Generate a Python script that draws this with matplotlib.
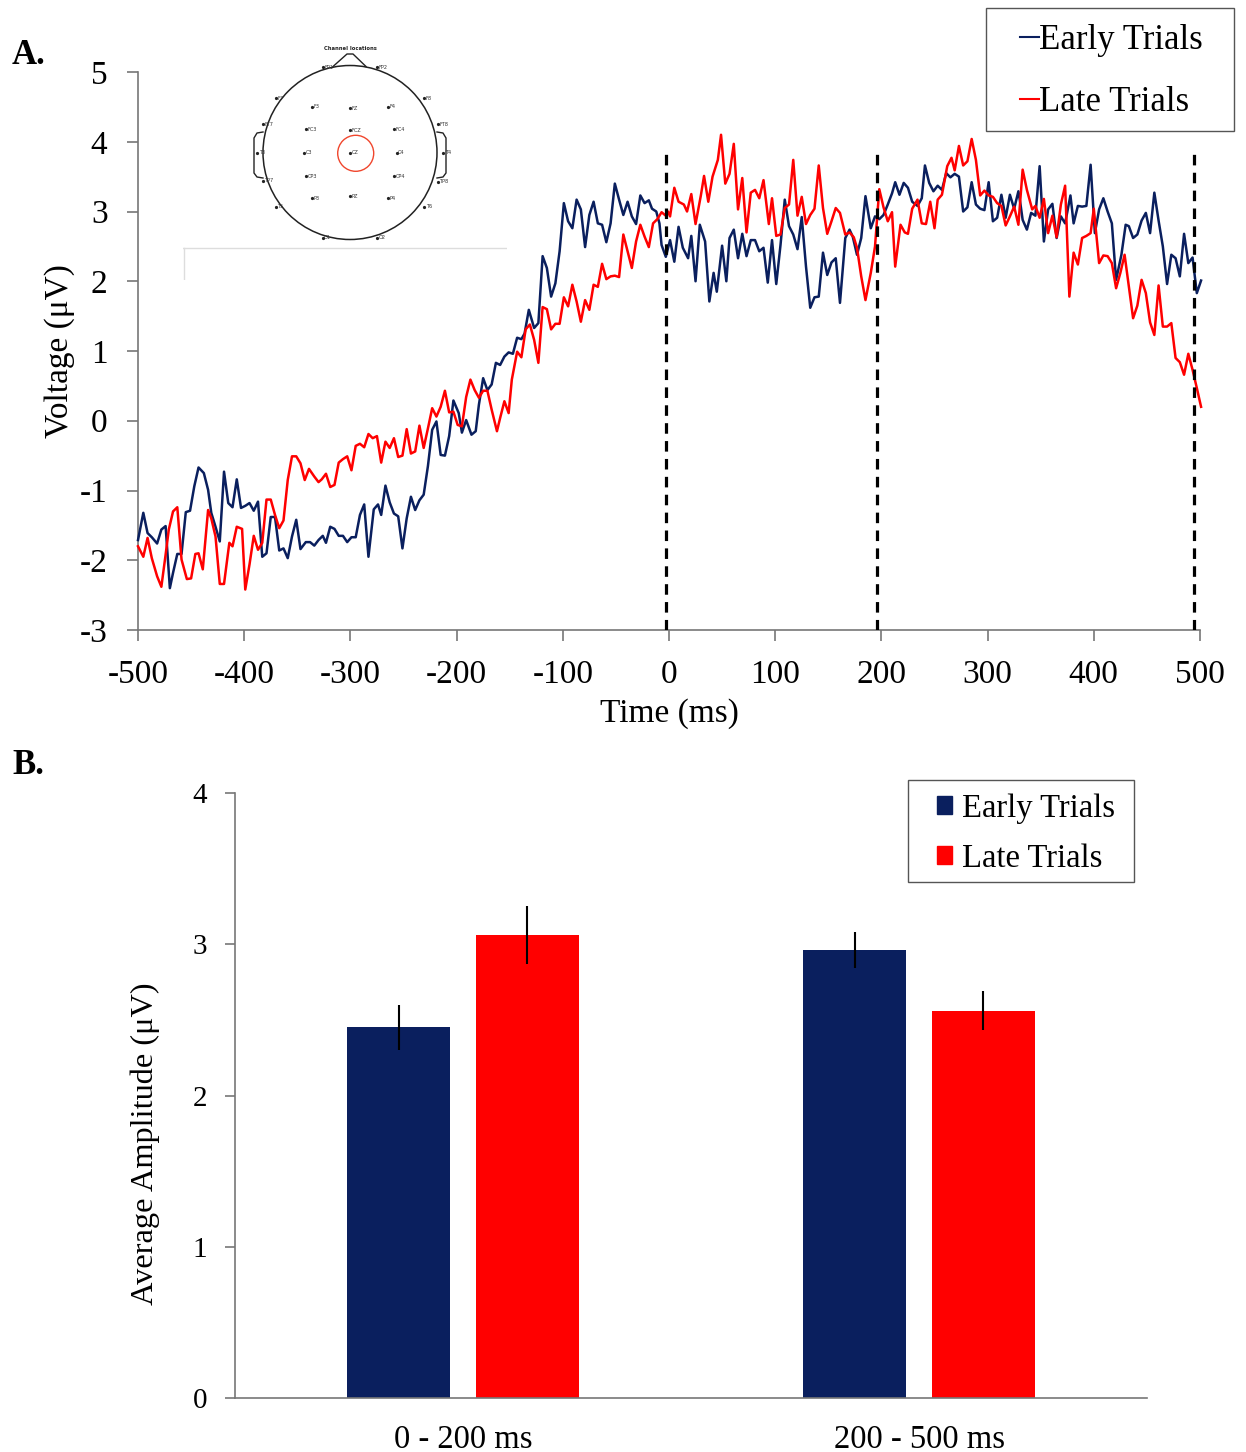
import matplotlib
matplotlib.use("Agg")
import matplotlib.pyplot as plt
from matplotlib.lines import Line2D
from matplotlib.patches import Circle, Patch, Rectangle

# ---------------- data ----------------
early_t = [-500,-495,-491,-487,-482,-478,-474,-470,-467,-463,-459,-455,-451,-447,-443,-438,-434,-431,-427,-423,
           -419,-415,-411,-407,-403,-399,-395,-391,-387,-383,-379,-375,-371,-367,-363,-359,-355,-351,-347,-342,
           -338,-334,-330,-326,-323,-319,-315,-311,-307,-303,-299,-295,-291,-287,-283,-278,-274,-271,-267,-263,
           -259,-255,-251,-247,-243,-239,-235,-231,-227,-223,-219,-215,-211,-207,-203,-198,-195,-191,-186,-182,
           -179,-175,-171,-167,-163,-159,-155,-151,-147,-143,-139,-136,-132,-127,-123,-119,-115,-111,-107,-103,
           -99,-95,-91,-87,-83,-79,-75,-71,-67,-63,-59,-55,-51,-47,-43,-39,-35,-31,-27,-23,
           -19,-16,-12,-9,-7,-3,1,5,9,13,18,21,25,29,34,38,42,45,50,54,
           57,61,65,69,73,77,81,85,89,93,97,101,105,109,113,117,121,125,129,133,
           137,141,145,149,153,157,161,166,170,173,177,181,185,190,194,198,202,206,210,213,
           217,221,225,229,234,238,241,245,249,253,257,261,265,269,273,277,281,285,289,293,
           297,301,305,309,313,317,321,325,329,331,333,337,341,345,349,353,357,361,365,369,
           373,378,381,385,389,393,397,401,405,409,413,417,421,426,430,433,437,441,445,449,
           453,457,461,465,469,473,477,481,485,489,493,497,501]
early_v = [-1.71,-1.32,-1.61,-1.67,-1.76,-1.56,-1.51,-2.40,-2.18,-1.91,-1.91,-1.31,-1.29,-0.94,-0.67,-0.75,-0.99,-1.32,-1.52,-1.73,
           -0.73,-1.18,-1.24,-0.84,-1.25,-1.22,-1.18,-1.29,-1.16,-1.95,-1.90,-1.38,-1.38,-1.86,-1.83,-1.97,-1.66,-1.42,-1.84,-1.74,
           -1.74,-1.79,-1.71,-1.65,-1.75,-1.52,-1.55,-1.65,-1.65,-1.74,-1.67,-1.67,-1.35,-1.20,-1.95,-1.27,-1.20,-1.35,-0.93,-1.17,
           -1.33,-1.37,-1.83,-1.40,-1.09,-1.28,-1.14,-1.06,-0.65,-0.13,-0.01,-0.49,-0.50,-0.22,0.29,0.11,-0.17,0.01,-0.20,-0.15,
           0.23,0.61,0.44,0.52,0.83,0.80,0.92,0.98,0.96,1.19,1.17,1.25,1.59,1.33,1.40,2.36,2.19,1.78,1.97,2.43,
           3.12,2.86,2.76,3.17,3.03,2.49,2.95,3.14,2.83,2.81,2.56,2.83,3.40,3.17,2.95,3.14,2.93,2.82,3.23,3.12,
           3.16,3.04,3.00,2.83,2.52,2.35,2.59,2.28,2.78,2.48,2.33,2.65,2.00,2.81,2.57,1.71,2.12,1.85,2.51,2.00,
           2.62,2.74,2.33,2.68,2.36,2.59,2.59,2.43,2.48,1.98,2.59,1.96,2.52,3.17,2.79,2.67,2.46,2.92,2.21,1.62,
           1.77,1.78,2.41,2.09,2.27,2.33,1.69,2.62,2.74,2.64,2.38,2.62,3.22,2.76,2.93,2.89,2.95,3.10,3.26,3.42,
           3.24,3.41,3.34,3.14,3.08,3.19,3.66,3.41,3.29,3.37,3.31,3.55,3.49,3.54,3.50,3.00,3.06,3.42,3.10,3.04,
           3.02,3.42,2.86,2.91,3.24,2.91,3.24,3.04,3.29,3.10,2.88,2.74,2.98,2.94,3.65,2.57,3.03,3.11,2.62,2.93,
           2.83,3.23,2.83,3.08,3.07,3.08,3.67,2.69,3.03,3.19,3.00,2.83,2.02,2.38,2.81,2.79,2.62,2.67,2.87,2.98,
           2.69,3.27,2.87,2.50,1.96,2.38,2.33,2.07,2.68,2.26,2.34,1.83,2.01]

late_t = [-500,-495,-491,-487,-482,-478,-474,-471,-467,-463,-459,-454,-450,-446,-443,-439,-434,-431,-427,-423,
          -419,-414,-411,-407,-402,-399,-395,-391,-387,-383,-379,-375,-371,-367,-363,-359,-355,-351,-347,-343,
          -339,-334,-330,-327,-323,-319,-315,-311,-307,-303,-299,-295,-291,-287,-283,-279,-275,-271,-267,-263,
          -259,-255,-251,-247,-243,-239,-235,-231,-227,-223,-219,-215,-211,-207,-203,-199,-195,-191,-187,-183,
          -179,-175,-171,-167,-162,-159,-155,-151,-148,-143,-139,-135,-131,-127,-123,-119,-115,-111,-107,-103,
          -99,-95,-91,-87,-83,-79,-75,-71,-67,-63,-59,-55,-51,-47,-43,-39,-35,-31,-27,-23,
          -19,-15,-11,-7,-3,-1,1,5,9,14,17,21,25,30,33,37,41,46,49,53,
          57,61,65,69,73,77,81,85,89,94,97,101,105,109,113,117,121,125,129,133,
          137,141,145,149,153,157,161,166,170,174,177,181,185,190,194,198,202,206,210,213,
          218,222,225,229,234,238,242,246,250,253,257,262,266,269,273,277,281,285,289,293,
          297,301,305,309,313,317,321,325,329,333,337,342,345,349,353,357,361,365,369,373,
          377,381,385,389,393,397,400,405,409,413,417,421,425,429,433,437,441,445,449,453,
          457,461,465,469,473,477,481,485,489,493,497,501]
late_v = [-1.80,-1.95,-1.68,-1.97,-2.23,-2.38,-1.92,-1.56,-1.30,-1.24,-1.99,-2.27,-2.26,-1.91,-1.90,-2.13,-1.28,-1.40,-1.66,-2.34,
          -2.34,-1.75,-1.80,-1.52,-1.55,-2.42,-2.06,-1.65,-1.85,-1.75,-1.13,-1.13,-1.35,-1.54,-1.43,-0.85,-0.51,-0.51,-0.61,-0.85,
          -0.69,-0.80,-0.88,-0.84,-0.76,-0.95,-0.92,-0.60,-0.55,-0.51,-0.71,-0.36,-0.33,-0.38,-0.19,-0.25,-0.22,-0.60,-0.30,-0.39,
          -0.25,-0.52,-0.50,-0.12,-0.47,-0.44,-0.07,-0.39,-0.11,0.18,0.06,0.20,0.43,0.12,0.13,-0.06,-0.08,0.34,0.59,0.44,
          0.33,0.43,0.43,0.16,-0.15,0.04,0.28,0.11,0.59,0.99,0.91,1.31,1.38,1.16,0.83,1.63,1.60,1.31,1.39,1.39,
          1.77,1.64,1.95,1.71,1.42,1.73,1.59,1.95,1.92,2.25,2.03,2.07,2.08,2.06,2.67,2.43,2.19,2.57,2.81,2.64,
          2.49,2.83,2.89,2.99,2.94,3.00,2.93,3.34,3.14,3.10,3.00,3.25,2.82,3.23,3.51,3.14,3.50,3.74,4.10,3.40,
          3.54,3.97,3.03,3.48,2.70,3.27,3.31,3.19,3.45,2.82,3.19,2.65,2.67,3.05,3.10,3.74,2.94,3.21,2.82,2.95,
          3.04,3.66,3.05,2.68,2.86,3.05,2.98,2.67,2.70,2.63,2.48,2.07,1.73,2.12,2.50,3.32,3.06,2.86,2.99,2.21,
          2.81,2.70,2.68,3.04,3.17,2.83,2.82,3.14,2.76,3.17,3.24,3.65,3.77,3.59,3.94,3.66,3.72,4.04,3.74,3.23,
          3.30,3.23,3.21,3.12,3.08,2.80,2.93,3.07,2.81,3.60,3.31,3.03,3.08,2.91,3.18,2.69,2.94,2.63,3.10,3.37,
          1.78,2.41,2.24,2.62,2.65,2.69,3.04,2.26,2.37,2.36,2.26,1.90,2.12,2.38,1.93,1.47,1.65,2.02,1.83,1.41,
          1.23,1.94,1.35,1.35,1.40,0.90,0.84,0.66,0.96,0.73,0.47,0.20]

window_edges = [-3, 196, 494]          # dashed window markers (ms)
series_names = ["Early Trials", "Late Trials"]
a_xticks = [-500, -400, -300, -200, -100, 0, 100, 200, 300, 400, 500]
a_yticks = [-3, -2, -1, 0, 1, 2, 3, 4, 5]

windows = ["0 - 200 ms", "200 - 500 ms"]
early_means = [2.45, 2.96]
late_means = [3.06, 2.56]
early_err = [0.15, 0.12]
late_err = [0.19, 0.13]
b_yticks = [0, 1, 2, 3, 4]

# head-map inset (figure pixel positions of electrodes)
electrodes = ["FP1", "FP2", "F7", "F3", "FZ", "F4", "F8", "FT7", "FC3", "FCZ", "FC4", "FT8",
              "T3", "C3", "CZ", "C4", "T4", "TP7", "CP3", "CP4", "TP8", "T5", "P3", "PZ", "P4", "T6", "O1", "O2"]
elec_x = [322.7, 377.3, 275.7, 311.7, 350.0, 388.3, 424.3, 262.7, 306.0, 350.0, 394.3, 437.7,
          257.3, 304.0, 350.0, 396.7, 443.3, 262.7, 306.0, 394.3, 437.7, 275.7, 311.7, 350.0, 388.3, 424.3, 322.7, 377.3]
elec_y = [67.3, 67.3, 98.3, 106.7, 108.3, 106.7, 98.3, 124.0, 129.3, 130.0, 129.3, 124.0,
          152.7, 152.7, 152.7, 152.7, 152.7, 181.0, 176.0, 176.0, 181.7, 206.7, 198.3, 196.0, 198.3, 206.7, 237.7, 237.7]

NAVY = "#0A1F5E"
RED = "#FF0000"
SERIF = ["Liberation Serif", "DejaVu Serif"]
plt.rcParams["font.family"] = SERIF

W, H = 1246, 1452
fig = plt.figure(figsize=(W / 100, H / 100), dpi=100)

def fx(px):
    return px / W

def fy(py):
    return 1 - py / H

def frame_box(x0, y0, x1, y1):
    fig.patches.append(Rectangle((fx(x0), fy(y1)), fx(x1) - fx(x0), fy(y0) - fy(y1),
                                 transform=fig.transFigure, fill=False, ec="#555555", lw=1.0))

# ---------------- panel A ----------------
axA = fig.add_axes([fx(138), fy(630), fx(1200) - fx(138), fy(72) - fy(630)])
axA.plot(early_t, early_v, color=NAVY, lw=1.8, clip_on=False, zorder=3)
axA.plot(late_t, late_v, color=RED, lw=1.8, clip_on=False, zorder=3)
axA.vlines(window_edges, -3, 3.9, colors="black", linestyles=(0, (3.3, 2.3)), lw=2.3, zorder=4)
axA.set_xlim(-500, 500)
axA.set_ylim(-3, 5)
axA.set_xticks(a_xticks)
axA.set_yticks(a_yticks)
axA.set_xticklabels([str(v) for v in a_xticks])
axA.set_yticklabels([str(v) for v in a_yticks])
for s in ["top", "right"]:
    axA.spines[s].set_visible(False)
for s in ["left", "bottom"]:
    axA.spines[s].set_color("#777777")
    axA.spines[s].set_linewidth(1.2)
axA.tick_params(axis="x", direction="out", length=8, width=1.2, color="#777777", labelsize=24, pad=13)
axA.tick_params(axis="y", direction="out", length=8, width=1.2, color="#777777", labelsize=24, pad=14)
axA.set_xlabel("Time (ms)", fontsize=24, labelpad=6)
axA.set_ylabel("Voltage (μV)", fontsize=24, labelpad=3)

legA = axA.legend(
    [Line2D([], [], color=NAVY, lw=1.5), Line2D([], [], color=RED, lw=1.5)], series_names,
    loc="upper left", bbox_to_anchor=(fx(1020), fy(24)), bbox_transform=fig.transFigure,
    fontsize=25, frameon=False, handlelength=0.55, handletextpad=0.0,
    labelspacing=0.84, borderpad=0, borderaxespad=0)
frame_box(986, 8, 1234, 131)

# inset head map
axI = fig.add_axes([fx(183), fy(280), fx(507) - fx(183), fy(40) - fy(280)])
axI.set_xlim(183, 507)
axI.set_ylim(280, 40)
axI.axis("off")
axI.add_patch(Circle((350, 152.5), 87, fill=False, ec="#222222", lw=1.1))
axI.plot([333, 347, 353, 366], [66.5, 54, 54, 66.5], color="#222222", lw=1.0)
axI.plot([263, 257, 254, 254, 257, 263], [132, 133, 138, 173, 177, 178], color="#222222", lw=1.0)
axI.plot([437, 443, 446, 446, 443, 437], [132, 133, 138, 173, 177, 178], color="#222222", lw=1.0)
axI.plot(elec_x, elec_y, ls="none", marker="o", ms=1.3, color="#222222")
for name, ex, ey in zip(electrodes, elec_x, elec_y):
    axI.text(ex + 1.5, ey, name, fontsize=3.6, va="center", ha="left", color="#333333",
             family=["DejaVu Sans"])
axI.add_patch(Circle((355.7, 153.3), 18, fill=False, ec="#F0462D", lw=1.0))
axI.text(350, 49, "Channel locations", fontsize=3.8, fontweight="bold", ha="center", va="center",
         family=["DejaVu Sans"], color="#222222")
axI.plot([183, 507], [248, 248], color="#DDDDDD", lw=1.0)
axI.plot([183.5, 183.5], [248, 280], color="#DDDDDD", lw=1.0)

fig.text(fx(12), fy(55), "A.", fontsize=25, fontweight="bold", ha="left", va="center")
fig.text(fx(12), fy(765), "B.", fontsize=25, fontweight="bold", ha="left", va="center")

# ---------------- panel B ----------------
axB = fig.add_axes([fx(235), fy(1398), fx(1147) - fx(235), fy(793) - fy(1398)])
xpos = list(range(len(windows)))
bw = 0.226
off = 0.1414
axB.bar([x - off for x in xpos], early_means, width=bw, color=NAVY, yerr=early_err,
        error_kw=dict(ecolor="black", elinewidth=1.5, capsize=0), label=series_names[0])
axB.bar([x + off for x in xpos], late_means, width=bw, color=RED, yerr=late_err,
        error_kw=dict(ecolor="black", elinewidth=1.5, capsize=0), label=series_names[1])
axB.set_xlim(-0.5, 1.5)
axB.set_ylim(0, 4)
axB.set_xticks(xpos)
axB.set_xticklabels(windows)
axB.set_yticks(b_yticks)
axB.set_yticklabels([str(v) for v in b_yticks])
for s in ["top", "right"]:
    axB.spines[s].set_visible(False)
for s in ["left", "bottom"]:
    axB.spines[s].set_color("#777777")
    axB.spines[s].set_linewidth(1.2)
axB.tick_params(axis="x", length=0, labelsize=23.5, pad=19)
axB.tick_params(axis="y", direction="out", length=7, width=1.2, color="#777777", labelsize=21, pad=13)
axB.set_ylabel("Average Amplitude (μV)", fontsize=23.3)
axB.yaxis.set_label_coords(-0.082, 0.42)

legB = axB.legend(
    [Patch(color=NAVY), Patch(color=RED)], series_names,
    loc="upper left", bbox_to_anchor=(fx(937), fy(793)), bbox_transform=fig.transFigure,
    fontsize=23.5, frameon=False, handlelength=0.46, handleheight=0.46,
    handletextpad=0.3, labelspacing=0.61, borderpad=0, borderaxespad=0)
frame_box(908, 780, 1134, 882)

fig.savefig("out.png", dpi=100, facecolor="white")
